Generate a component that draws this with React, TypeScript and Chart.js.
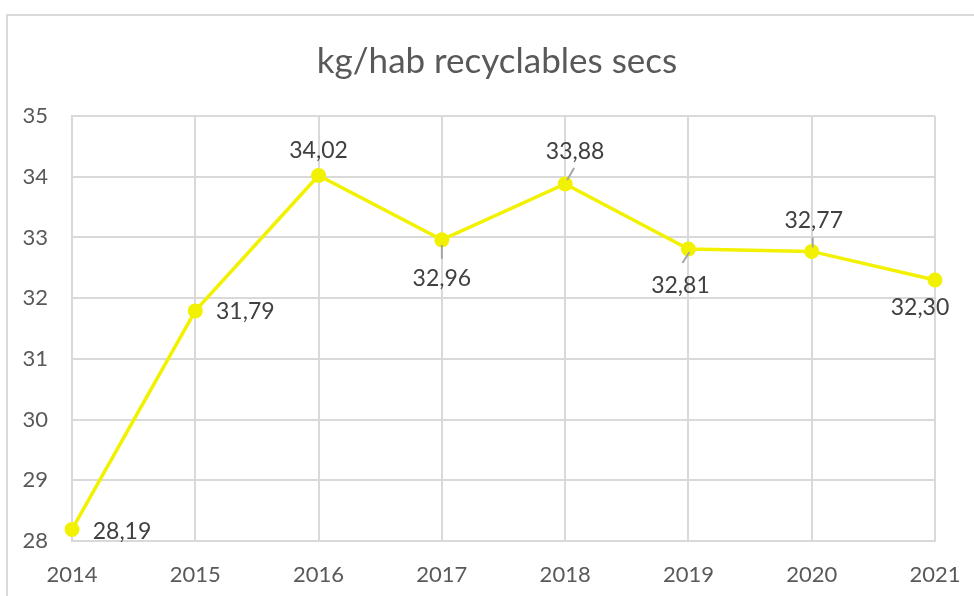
import React, { useEffect, useRef } from "react";
import { Chart, registerables } from "chart.js";

Chart.register(...registerables);

const years = ["2014", "2015", "2016", "2017", "2018", "2019", "2020", "2021"];
const kgPerInhabitant = [28.19, 31.79, 34.02, 32.96, 33.88, 32.81, 32.77, 32.3];
const yTicks = [28, 29, 30, 31, 32, 33, 34, 35];
const chartTitle = "kg/hab recyclables secs";

// label placement relative to each point (style only)
const labelOffsets: [number, number][] = [
  [50, 2], [50, 1], [0, -25], [0, 39], [10, -32], [-8, 37], [2, -31], [-15, 28],
];
const leaderLines: ([number, number, number, number] | null)[] = [
  null, null, null, [0, 5, 0, 19], [2, -4, 9, -16], [1, 3, -6, 14], [1, -4, 1, -14], null,
];

const TEXT = "#595959";
const GRID = "#d9d9d9";
const LINE = "#f2f200";
const FONT = "Lato, 'Noto Sans', sans-serif";

const labelPlugin = {
  id: "valueLabels",
  afterDatasetsDraw(chart: any) {
    const ctx = chart.ctx;
    const meta = chart.getDatasetMeta(0);
    ctx.save();
    meta.data.forEach((pt: any, i: number) => {
      const lead = leaderLines[i];
      if (lead) {
        ctx.strokeStyle = "#a6a6a6";
        ctx.lineWidth = 2;
        ctx.beginPath();
        ctx.moveTo(pt.x + lead[0], pt.y + lead[1]);
        ctx.lineTo(pt.x + lead[2], pt.y + lead[3]);
        ctx.stroke();
      }
    });
    ctx.fillStyle = "#404040";
    ctx.font = `23px ${FONT}`;
    ctx.textAlign = "center";
    ctx.textBaseline = "middle";
    meta.data.forEach((pt: any, i: number) => {
      const [dx, dy] = labelOffsets[i];
      const txt = kgPerInhabitant[i].toFixed(2).replace(".", ",");
      ctx.fillText(txt, pt.x + dx, pt.y + dy);
    });
    ctx.restore();
  },
};

export default function App() {
  const ref = useRef<HTMLCanvasElement>(null);
  useEffect(() => {
    if (!ref.current) return;
    const chart = new Chart(ref.current, {
      type: "line",
      data: {
        labels: years,
        datasets: [
          {
            data: kgPerInhabitant,
            borderColor: LINE,
            backgroundColor: LINE,
            borderWidth: 3.5,
            pointRadius: 7.5,
            pointHoverRadius: 7.5,
            pointBorderWidth: 0,
            tension: 0,
          },
        ],
      },
      options: {
        responsive: false,
        animation: false,
        layout: { padding: 0 },
        plugins: {
          legend: { display: false },
          tooltip: { enabled: false },
          title: {
            display: true,
            text: chartTitle,
            color: TEXT,
            font: { family: FONT, size: 35, weight: "normal" },
            padding: { top: 25, bottom: 33 },
          },
        },
        scales: {
          x: {
            offset: false,
            grid: { color: GRID, lineWidth: 2, drawTicks: false },
            border: { color: GRID, width: 2 },
            ticks: {
              color: TEXT,
              font: { family: FONT, size: 22 },
              padding: 21,
              maxRotation: 0,
            },
            afterFit: (s: any) => {
              s.height = 55;
            },
          },
          y: {
            min: 28,
            max: 35,
            afterBuildTicks: (s: any) => {
              s.ticks = yTicks.map((v) => ({ value: v }));
            },
            grid: { color: GRID, lineWidth: 2, drawTicks: false },
            border: { color: GRID, width: 2 },
            ticks: {
              color: TEXT,
              font: { family: FONT, size: 22 },
              padding: 24,
            },
            afterFit: (s: any) => {
              s.width = 64;
            },
          },
          yRight: {
            position: "right",
            min: 28,
            max: 35,
            grid: { display: false, drawTicks: false },
            border: { display: false },
            ticks: { display: false },
            afterFit: (s: any) => {
              s.width = 51;
            },
          },
        },
      },
      plugins: [labelPlugin],
    });
    return () => chart.destroy();
  }, []);

  return (
    <div
      style={{
        position: "fixed",
        left: 6,
        top: 14,
        width: 982,
        height: 600,
        border: "2px solid #d9d9d9",
        boxSizing: "border-box",
        background: "#fff",
      }}
    >
      <canvas ref={ref} width={978} height={580} style={{ display: "block" }} />
    </div>
  );
}
